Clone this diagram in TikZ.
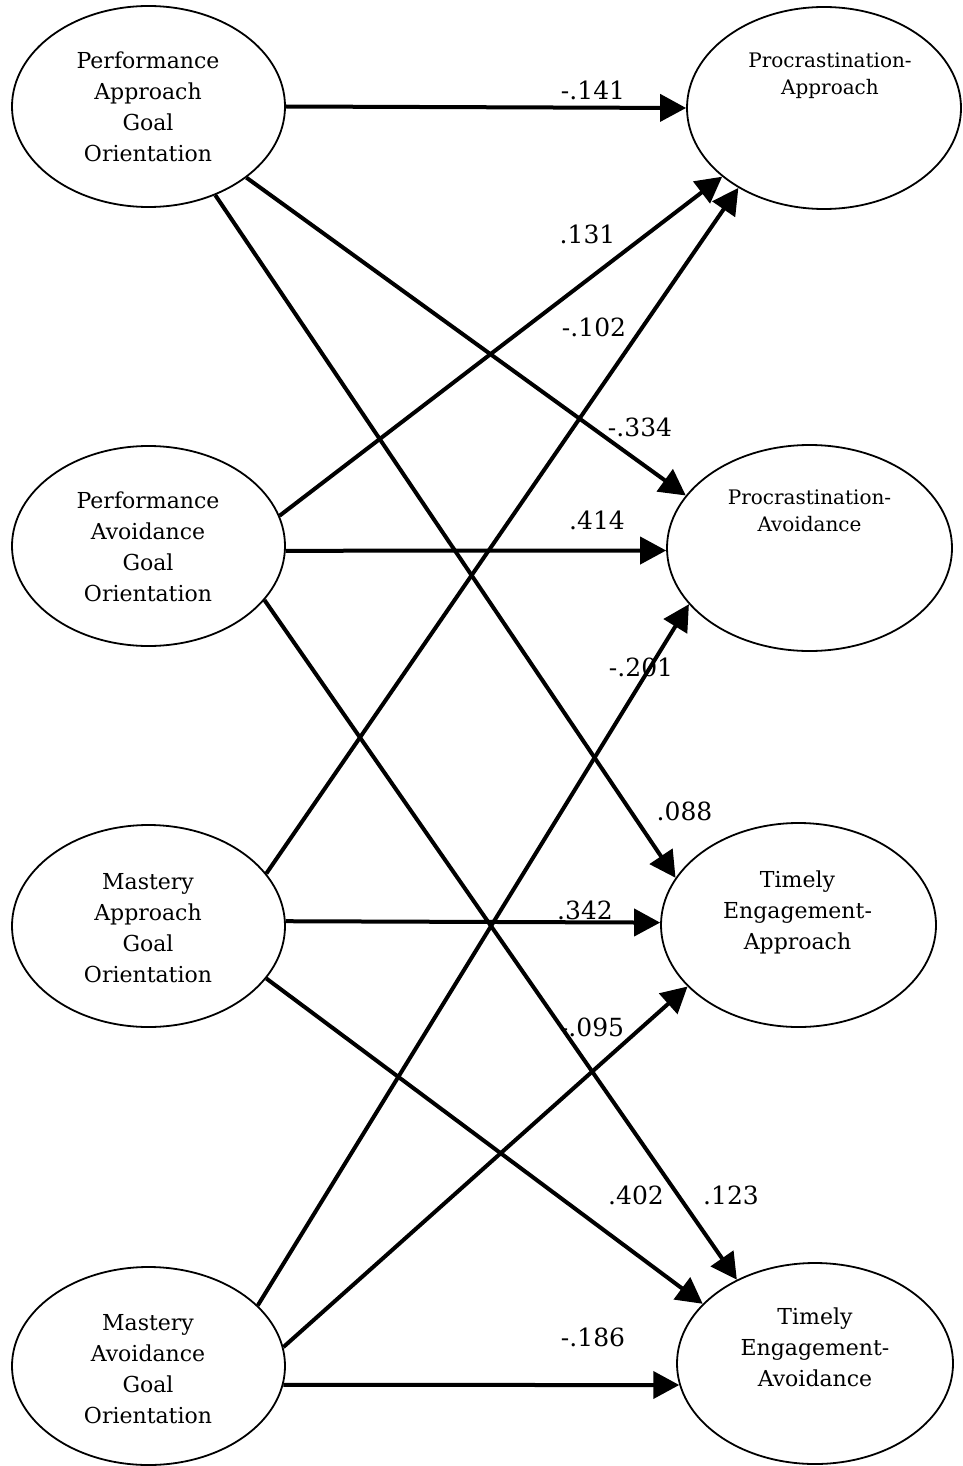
\documentclass[tikz,border=0pt]{standalone}
\usepackage{fontspec}
\setmainfont{DejaVu Serif}
\usetikzlibrary{shapes.geometric,arrows.meta}
\begin{document}
\begin{tikzpicture}[x=1pt,y=-1pt,
  construct/.style={draw, ellipse, line width=1.8pt, inner sep=0pt},
  nametext/.style={align=center, inner sep=0pt, font=\fontsize{22}{31}\selectfont},
  smallname/.style={align=center, inner sep=0pt, font=\fontsize{20}{27.5}\selectfont},
  effect/.style={line width=4pt, -{Triangle[length=26pt,width=27pt]}},
  coef/.style={anchor=base, inner sep=0pt, font=\fontsize{25}{30}\selectfont}]
\useasboundingbox (0,0) rectangle (963,1466);

% goal orientations (left column)
\node[construct, minimum width=273pt, minimum height=201pt] (l1) at (148.5,106.5) {};
\node[construct, minimum width=273pt, minimum height=200pt] (l2) at (148.5,546) {};
\node[construct, minimum width=273pt, minimum height=202pt] (l3) at (148.5,926) {};
\node[construct, minimum width=273pt, minimum height=198pt] (l4) at (148.5,1366) {};
\node[nametext] (l1t) at (148,107.2) {Performance\\Approach\\Goal\\Orientation};
\node[nametext] (l2t) at (148,547) {Performance\\Avoidance\\Goal\\Orientation};
\node[nametext] (l3t) at (148,927.8) {Mastery\\Approach\\Goal\\Orientation};
\node[nametext] (l4t) at (148,1368.7) {Mastery\\Avoidance\\Goal\\Orientation};

% outcomes (right column)
\node[construct, minimum width=274pt, minimum height=202pt] (r1) at (824,108) {};
\node[construct, minimum width=285pt, minimum height=206pt] (r2) at (809.5,548) {};
\node[construct, minimum width=275pt, minimum height=204pt] (r3) at (798.5,925) {};
\node[construct, minimum width=276pt, minimum height=201pt] (r4) at (815,1363.5) {};
\node[smallname] (r1t) at (830,75.8) {Procrastination-\\Approach};
\node[smallname] (r2t) at (809.5,511) {Procrastination-\\Avoidance};
\node[nametext] (r3t) at (797.5,912.5) {Timely\\Engagement-\\Approach};
\node[nametext] (r4t) at (815,1347.5) {Timely\\Engagement-\\Avoidance};

% paths
\draw[effect] (l1.0) -- (r1.180);
\draw[effect] (l1.-36.5) -- (r2.157.5);
\draw[effect] (l1.-53.2) -- (r3.159.5);
\draw[effect] (l2.13.5) -- (r1.214.7);
\draw[effect] (l2.-2) -- (r2.181);
\draw[effect] (l2.-25.4) -- (r4.133);
\draw[effect] (l3.24.5) -- (r1.223.7);
\draw[effect] (l3.2) -- (r3.179);
\draw[effect] (l3.-24.9) -- (r4.152.9);
\draw[effect] (l4.29.8) -- (r2.205.1);
\draw[effect] (l4.8.1) -- (r3.209.1);
\draw[effect] (l4.-8.8) -- (r4.189.7);

% path coefficients
\node[coef] (c1) at (593,100) {-.141};
\node[coef] (c2) at (587.5,243) {.131};
\node[coef] (c3) at (594,336) {-.102};
\node[coef] (c4) at (640,436) {-.334};
\node[coef] (c5) at (597,529) {.414};
\node[coef] (c6) at (641,676) {-.201};
\node[coef] (c7) at (684.5,820) {.088};
\node[coef] (c8) at (585,919) {.342};
\node[coef] (c9) at (592,1036) {-.095};
\node[coef] (c10) at (636,1204) {.402};
\node[coef] (c11) at (731,1204) {.123};
\node[coef] (c12) at (593,1346) {-.186};
\end{tikzpicture}
\end{document}
